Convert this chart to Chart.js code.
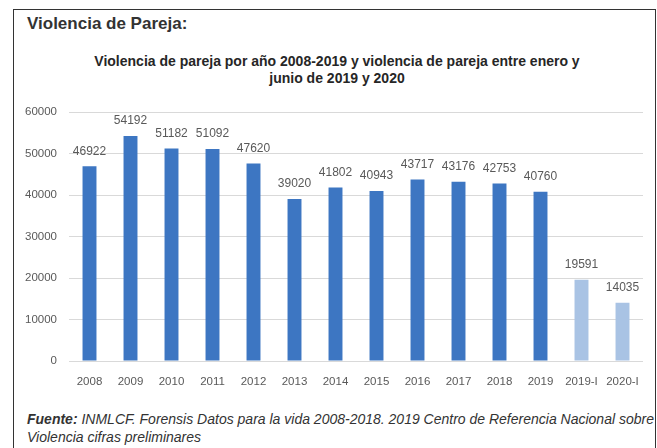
<!DOCTYPE html>
<html>
<head>
<meta charset="utf-8">
<script src="https://cdn.jsdelivr.net/npm/chart.js@4/dist/chart.umd.min.js"></script>
<style>
  html, body { margin: 0; padding: 0; background: #fff; }
  body { width: 657px; height: 448px; position: relative; overflow: hidden; font-family: "Liberation Sans", Arial, sans-serif; }
  #frame { position: absolute; left: 13px; top: 9px; width: 641px; height: 460px; border: 1px solid #333; border-bottom: none; }
  #heading { position: absolute; left: 27px; top: 14px; font-size: 17px; font-weight: bold; color: #333; }
  #titulo { position: absolute; left: 17px; top: 53px; width: 640px; text-align: center; font-size: 14px; line-height: 17px; font-weight: bold; color: #262626; }
  #wrap { position: absolute; left: 14px; top: 40px; width: 641px; height: 360px; }
  #source { position: absolute; left: 27px; top: 410px; font-size: 14px; line-height: 18px; font-style: italic; color: #333; width: 628px; white-space: nowrap; }
</style>
</head>
<body>
<div id="frame"></div>
<div id="heading">Violencia de Pareja:</div>
<div id="titulo">Violencia de pareja por año 2008-2019 y violencia de pareja entre enero y<br>junio de 2019 y 2020</div>
<div id="wrap"><canvas id="grafico"></canvas></div>
<div id="source"><b>Fuente:</b> INMLCF. Forensis Datos para la vida 2008-2018. 2019 Centro de Referencia Nacional sobre<br>Violencia cifras preliminares</div>

<script>
// periodos y casos de violencia de pareja
var periodos = ["2008", "2009", "2010", "2011", "2012", "2013", "2014", "2015", "2016", "2017", "2018", "2019", "2019-I", "2020-I"];
var casos = [46922, 54192, 51182, 51092, 47620, 39020, 41802, 40943, 43717, 43176, 42753, 40760, 19591, 14035];
var ticksY = [0, 10000, 20000, 30000, 40000, 50000, 60000];

// años completos en azul, semestres en azul claro
var colores = periodos.map(function (p) {
    return p.indexOf("-I") > -1 ? "#a9c3e4" : "#3d76c2";
});

// etiqueta con el valor encima de cada barra
var etiquetas = {
    id: "etiquetas",
    afterDatasetsDraw: function (chart) {
        var ctx = chart.ctx;
        var meta = chart.getDatasetMeta(0);
        ctx.save();
        ctx.font = "12px 'Liberation Sans', Arial, sans-serif";
        ctx.fillStyle = "#595959";
        ctx.textAlign = "center";
        ctx.textBaseline = "middle";
        meta.data.forEach(function (bar, i) {
            ctx.fillText(String(casos[i]), bar.x, bar.y - 15);
        });
        ctx.restore();
    }
};

new Chart(document.getElementById("grafico").getContext("2d"), {
    type: "bar",
    data: {
        labels: periodos,
        datasets: [
            {
                data: casos,
                backgroundColor: colores,
                barPercentage: 0.34,
                categoryPercentage: 1
            }
        ]
    },
    options: {
        responsive: true,
        maintainAspectRatio: false,
        animation: false,
        layout: { padding: { left: 0, right: 12, top: 72, bottom: 9 } },
        plugins: {
            legend: { display: false },
            tooltip: { enabled: false }
        },
        scales: {
            x: {
                grid: { display: false },
                border: { display: false },
                ticks: {
                    color: "#595959",
                    font: { family: "'Liberation Sans', Arial, sans-serif", size: 11.5 },
                    maxRotation: 0,
                    autoSkip: false,
                    padding: 6
                },
                afterFit: function (scale) { scale.height = 30; }
            },
            y: {
                min: 0,
                max: 60000,
                afterBuildTicks: function (scale) {
                    scale.ticks = ticksY.map(function (v) { return { value: v }; });
                },
                grid: { color: "#d9d9d9", drawTicks: false },
                border: { display: false },
                ticks: {
                    color: "#595959",
                    font: { family: "'Liberation Sans', Arial, sans-serif", size: 11.5 },
                    padding: 12,
                    callback: function (v) { return String(v); }
                },
                afterFit: function (scale) { scale.width = 55; }
            }
        }
    },
    plugins: [etiquetas]
});
</script>
</body>
</html>
